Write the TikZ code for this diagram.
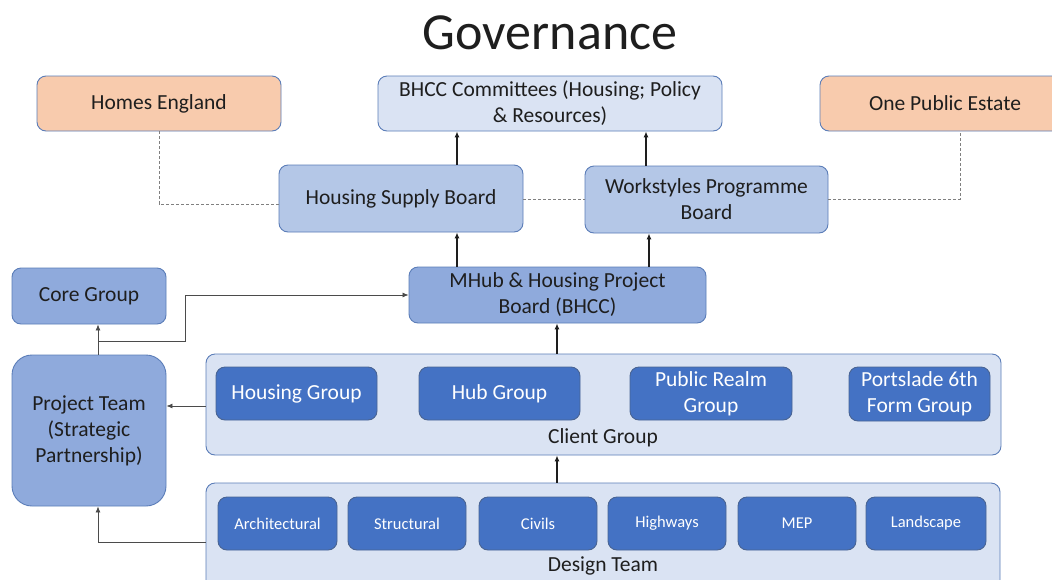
\documentclass[tikz,border=0pt]{standalone}
\usepackage{fontspec}
\setmainfont{Carlito}
\usetikzlibrary{arrows.meta}
\definecolor{peach}{HTML}{F8CBAD}
\definecolor{pale}{HTML}{DAE3F3}
\definecolor{mid}{HTML}{B4C7E7}
\definecolor{deep}{HTML}{8FAADC}
\definecolor{dark}{HTML}{4472C4}
\definecolor{edge}{HTML}{5B7DB8}
\definecolor{ink}{HTML}{1E1E1E}
\tikzset{
  box/.style={draw=edge, line width=0.9pt, rounded corners=9pt, inner sep=0pt, align=center,
    text=ink, font=\fontsize{21.5}{26}\selectfont},
  inbox/.style={box, fill=dark, text=white, draw=edge!80!black},
  smallbox/.style={inbox, font=\fontsize{16.5}{20}\selectfont},
  arr/.style={-{Latex[length=6pt,width=5pt]}, line width=1.1pt, draw=ink},
  thin/.style={-{Latex[length=6pt,width=5pt]}, line width=0.8pt, draw=ink!80},
  dots/.style={densely dashed, line width=0.7pt, draw=gray},
}
\begin{document}
\begin{tikzpicture}[x=1pt,y=-1pt]
\useasboundingbox (0,0) rectangle (1052,579);
\clip (0,0) rectangle (1052,579);
\fill[white] (0,0) rectangle (1052,579);
\node[text=ink, font=\fontsize{52}{56}\selectfont] (title) at (550,33) {Governance};
% top row
\node[box, fill=peach, minimum width=244pt, minimum height=55pt] (he) at (159,103.5) {Homes England};
\node[box, fill=pale, minimum width=344pt, minimum height=55pt] (bhcc) at (550,103.5) {BHCC Committees (Housing; Policy\\\& Resources)};
\node[box, fill=peach, minimum width=250pt, minimum height=55pt] (ope) at (945,103.5) {One Public Estate};
% boards
\node[box, fill=mid, minimum width=244pt, minimum height=67pt] (hsb) at (401,198.5) {Housing Supply Board};
\node[box, fill=mid, minimum width=243pt, minimum height=67pt] (wpb) at (706.5,199.5) {Workstyles Programme\\Board};
\node[box, fill=deep, minimum width=297pt, minimum height=56pt] (mhub) at (557.5,295) {MHub \& Housing Project\\Board (BHCC)};
\node[box, fill=deep, minimum width=154pt, minimum height=56pt] (core) at (89,296) {Core Group};
\node[box, fill=deep, rounded corners=20pt, minimum width=154pt, minimum height=151pt] (pt) at (89,430.5) {Project Team\\(Strategic\\Partnership)};
% client group
\node[box, fill=pale, minimum width=795pt, minimum height=101pt] (cg) at (603.5,404.5) {};
\node[text=ink, font=\fontsize{21.5}{26}\selectfont] (cgl) at (603,438) {Client Group};
\node[inbox, minimum width=161pt, minimum height=53pt] (hg) at (296.5,393.5) {Housing Group};
\node[inbox, minimum width=161pt, minimum height=53pt] (hub) at (499.5,393.5) {Hub Group};
\node[inbox, minimum width=162pt, minimum height=53pt] (prg) at (711,393.5) {Public Realm\\Group};
\node[inbox, minimum width=141pt, minimum height=54pt] (p6) at (919.5,394) {Portslade 6th\\Form Group};
% design team
\node[box, fill=pale, minimum width=794pt, minimum height=110pt] (dt) at (603,538) {};
\node[text=ink, font=\fontsize{21.5}{26}\selectfont] (dtl) at (603,566) {Design Team};
\node[smallbox, minimum width=119pt, minimum height=53pt] (arch) at (277.5,523.5) {Architectural};
\node[smallbox, minimum width=118pt, minimum height=53pt] (str) at (407,523.5) {Structural};
\node[smallbox, minimum width=118pt, minimum height=53pt] (civ) at (538,523.5) {Civils};
\node[smallbox, minimum width=118pt, minimum height=53pt] (hwy) at (667,523.5) {Highways};
\node[smallbox, minimum width=118pt, minimum height=53pt] (mep) at (797,523.5) {MEP};
\node[smallbox, minimum width=120pt, minimum height=53pt] (land) at (926,523.5) {Landscape};
% arrows
\draw[arr] (hsb.north -| 457,0) -- (bhcc.south -| 457,0);
\draw[arr] (wpb.north -| 646,0) -- (bhcc.south -| 646,0);
\draw[arr] (mhub.north -| 457,0) -- (hsb.south -| 457,0);
\draw[arr] (mhub.north -| 649,0) -- (wpb.south -| 649,0);
\draw[arr] (cg.north -| 557,0) -- (mhub.south -| 557,0);
\draw[arr] (dt.north -| 557,0) -- (cg.south -| 557,0);
\draw[thin] (cg.west |- 0,406) -- (pt.east |- 0,406);
\coordinate (split) at (98,341);
\draw[thin] (dt.west |- 0,542) -| (pt.south -| split);
\draw[thin] (pt.north -| split) -- (core.south -| split);
\draw[thin] (split) -- (185,341) |- (mhub.west |- 0,295);
% dashed links
\draw[dots] (he.south -| 159,0) |- (hsb.west |- 0,204);
\draw[dots] (hsb.east |- 0,199) -- (wpb.west |- 0,199);
\draw[dots] (wpb.east |- 0,199) -| (ope.south -| 960,0);
\end{tikzpicture}
\end{document}
